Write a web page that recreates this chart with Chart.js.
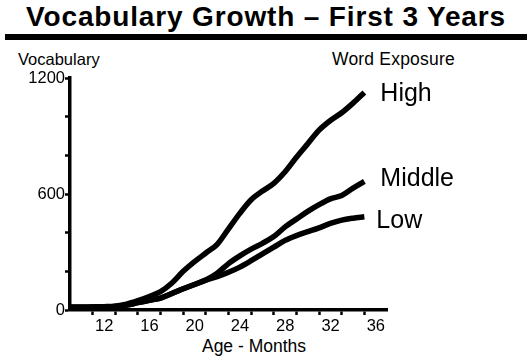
<!doctype html>
<html lang="en">
  <head>
    <meta charset="utf-8">
    <title>Vocabulary Growth</title>
    <script src="https://cdn.jsdelivr.net/npm/chart.js"></script>
    <style>
      body { margin: 0; background: #fff; font-family: "Liberation Sans", Arial, sans-serif; }
      #wrap { position: relative; width: 532px; height: 363px; overflow: hidden; }
      #wrap canvas { position: absolute; left: 0; top: 0; }
      .txt { position: absolute; color: #000; white-space: nowrap; line-height: 1; }
      #title { left: 0; width: 532px; text-align: center; top: 3px; font-size: 28px; font-weight: bold; letter-spacing: 0.85px; }
      #rule { position: absolute; left: 5px; width: 522px; top: 34px; height: 6px; background: #000; }
      #ylab { left: 18px; top: 51px; font-size: 16.5px; }
      #legtitle { left: 332px; top: 51px; font-size: 17.5px; letter-spacing: 0.2px; }
      #xlab { left: 0; width: 508px; text-align: center; top: 338px; font-size: 17.5px; }
    </style>
  </head>
  <body>
    <div id="wrap">
      <div class="txt" id="title">Vocabulary Growth – First 3 Years</div>
      <div id="rule"></div>
      <div class="txt" id="ylab">Vocabulary</div>
      <div class="txt" id="legtitle">Word Exposure</div>
      <div class="txt" id="xlab">Age - Months</div>
      <canvas id="chart" width="532" height="363"></canvas>
    </div>

    <script>
    // age in months
    const months = [10, 11, 12, 13, 14, 15, 16, 17, 18, 19, 20, 21, 22, 23, 24, 25, 26, 27, 28, 29, 30, 31, 32, 33, 34, 35, 36];
    // vocabulary size
    const high   = [14, 14, 15, 17, 20, 30, 48, 70, 95, 140, 200, 250, 295, 340, 420, 500, 570, 615, 655, 715, 790, 860, 930, 980, 1020, 1070, 1125];
    const middle = [14, 14, 15, 16, 18, 26, 38, 50, 62, 85, 110, 132, 155, 190, 240, 280, 315, 345, 380, 430, 470, 510, 545, 575, 592, 630, 665];
    const low    = [14, 14, 15, 16, 18, 26, 38, 50, 62, 85, 110, 132, 155, 172, 195, 222, 255, 290, 325, 360, 385, 405, 425, 448, 465, 475, 482];
    const seriesNames = ['High', 'Middle', 'Low'];
    const yTickLabels = [0, 600, 1200];
    const xTickLabels = [12, 16, 20, 24, 28, 32, 36];

    const FONT = '"Liberation Sans", Arial, sans-serif';
    Chart.defaults.color = '#000';
    Chart.defaults.font.family = FONT;

    function toPoints(arr) {
      return months.map((m, i) => ({ x: m, y: arr[i] }));
    }

    // series names drawn next to the end of each line
    const endLabels = {
      id: 'endLabels',
      afterDatasetsDraw(chart) {
        const ctx = chart.ctx;
        const nudge = [[16, 2], [16, -2], [12, 4]];
        ctx.save();
        ctx.font = '25px ' + FONT;
        ctx.fillStyle = '#000';
        ctx.textBaseline = 'middle';
        chart.data.datasets.forEach((ds, i) => {
          const pts = chart.getDatasetMeta(i).data;
          const p = pts[pts.length - 1];
          ctx.fillText(ds.label, p.x + nudge[i][0], p.y + nudge[i][1]);
        });
        ctx.restore();
      }
    };

    const mk = (name, arr) => ({
      label: name,
      data: toPoints(arr),
      borderColor: '#000',
      borderWidth: 5.5,
      pointRadius: 0,
      tension: 0.35,
      cubicInterpolationMode: 'monotone',
      fill: false,
      clip: false
    });

    const tickCol = c => (c.tick && (c.tick.value > 36 || c.tick.value < 11)) ? 'rgba(0,0,0,0)' : '#000';

    new Chart(document.getElementById('chart'), {
      type: 'line',
      data: {
        datasets: [mk(seriesNames[0], high), mk(seriesNames[1], middle), mk(seriesNames[2], low)]
      },
      options: {
        responsive: false,
        animation: false,
        devicePixelRatio: 1,
        layout: { padding: { top: 78, right: 145, left: 0, bottom: 0 } },
        plugins: { legend: { display: false }, tooltip: { enabled: false } },
        scales: {
          x: {
            type: 'linear',
            min: 10,
            max: 38,
            afterFit(scale) { scale.height = 53; },
            border: { display: true, color: '#000', width: 3.5 },
            grid: { drawOnChartArea: false, drawTicks: true, tickLength: 5, tickWidth: 2.5, tickColor: tickCol, color: tickCol },
            ticks: {
              stepSize: 2,
              autoSkip: false,
              maxRotation: 0,
              padding: 2,
              labelOffset: 11.5,
              font: { size: 16.5 },
              callback: v => xTickLabels.includes(v) ? String(v) : ''
            }
          },
          y: {
            min: 0,
            max: 1200,
            afterFit(scale) { scale.width = 70; },
            border: { display: true, color: '#000', width: 3.5 },
            grid: { drawOnChartArea: false, drawTicks: true, tickLength: 5, tickWidth: 2.5, tickColor: '#000', color: '#000' },
            ticks: {
              stepSize: 200,
              autoSkip: false,
              padding: 0,
              font: { size: 16.5 },
              callback: v => yTickLabels.includes(v) ? String(v) : ''
            }
          }
        }
      },
      plugins: [endLabels]
    });
    </script>
  </body>
</html>
